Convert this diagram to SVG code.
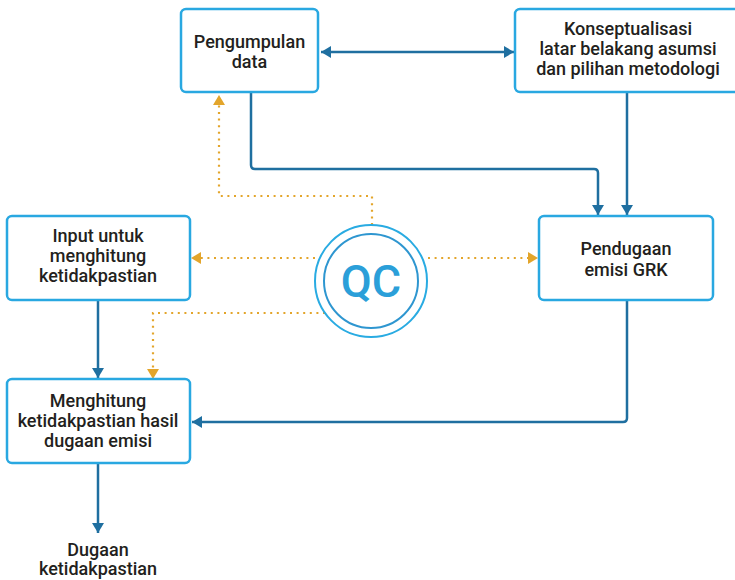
<svg xmlns="http://www.w3.org/2000/svg" width="735" height="580" viewBox="0 0 735 580">
<defs>
<style>
.box{fill:#ffffff;stroke:#29a8e1;stroke-width:2.5}
.t{font-family:Roboto,"Liberation Sans",sans-serif;font-size:18px;font-weight:500;fill:#231f20;text-anchor:middle}
.c{fill:none;stroke:#1f6fa0;stroke-width:2.5}
.d{fill:none;stroke:#e3a52b;stroke-width:2.2;stroke-dasharray:2 4.6}
</style>
<marker id="ab" markerUnits="userSpaceOnUse" markerWidth="12" markerHeight="12" viewBox="0 0 10 12" refX="10" refY="6" orient="auto-start-reverse"><path d="M0,0 L10,6 L0,12 z" fill="#1f6fa0"/></marker>
<marker id="ao" markerUnits="userSpaceOnUse" markerWidth="12" markerHeight="12" viewBox="0 0 10 12" refX="10" refY="6" orient="auto"><path d="M0,0 L10,6 L0,12 z" fill="#e3a52b"/></marker>
</defs>
<g id="connectors">
<path class="c" d="M321,52 H514" marker-start="url(#ab)" marker-end="url(#ab)"/>
<path class="c" d="M251,92 V165 Q251,169 255,169 H594 Q598,169 598,173 V215" marker-end="url(#ab)"/>
<path class="c" d="M627,92 V215" marker-end="url(#ab)"/>
<path class="c" d="M98,300 V378" marker-end="url(#ab)"/>
<path class="c" d="M627,300 V418 Q627,422 623,422 H192" marker-end="url(#ab)"/>
<path class="c" d="M98,463 V533" marker-end="url(#ab)"/>
<path class="d" d="M372,225 V196 H219 V95" marker-end="url(#ao)"/>
<path class="d" d="M315,258 H191" marker-end="url(#ao)"/>
<path class="d" d="M428,258 H538" marker-end="url(#ao)"/>
<path class="d" d="M325,313 H153 V379" marker-end="url(#ao)"/>
</g>
<g id="pengumpulan">
<rect class="box" x="181" y="9" width="137" height="83" rx="5"/>
<text class="t" x="249.5" y="48">Pengumpulan</text>
<text class="t" x="249.5" y="68">data</text>
</g>
<g id="konseptualisasi">
<rect class="box" x="515" y="9" width="228" height="83" rx="5"/>
<text class="t" x="628" y="35">Konseptualisasi</text>
<text class="t" x="628" y="55">latar belakang asumsi</text>
<text class="t" x="628" y="75">dan pilihan metodologi</text>
</g>
<g id="input">
<rect class="box" x="7" y="216" width="183" height="84" rx="5"/>
<text class="t" x="98" y="242">Input untuk</text>
<text class="t" x="98" y="262">menghitung</text>
<text class="t" x="98" y="282">ketidakpastian</text>
</g>
<g id="pendugaan">
<rect class="box" x="539" y="216" width="174" height="84" rx="5"/>
<text class="t" x="626" y="255">Pendugaan</text>
<text class="t" x="626" y="276">emisi GRK</text>
</g>
<g id="qc">
<circle cx="371" cy="281" r="56" fill="#ffffff" stroke="#29abe2" stroke-width="2"/>
<circle cx="371" cy="281" r="47" fill="none" stroke="#2e96d0" stroke-width="2"/>
<text x="371" y="297" font-family="Roboto,'Liberation Sans',sans-serif" font-size="45" font-weight="500" fill="#2b9fd9" text-anchor="middle">QC</text>
</g>
<g id="menghitung">
<rect class="box" x="7" y="379" width="183" height="84" rx="5"/>
<text class="t" x="98" y="407">Menghitung</text>
<text class="t" x="98" y="427">ketidakpastian hasil</text>
<text class="t" x="98" y="447">dugaan emisi</text>
</g>
<g id="dugaan">
<text class="t" x="98" y="556">Dugaan</text>
<text class="t" x="98" y="575">ketidakpastian</text>
</g>
</svg>
